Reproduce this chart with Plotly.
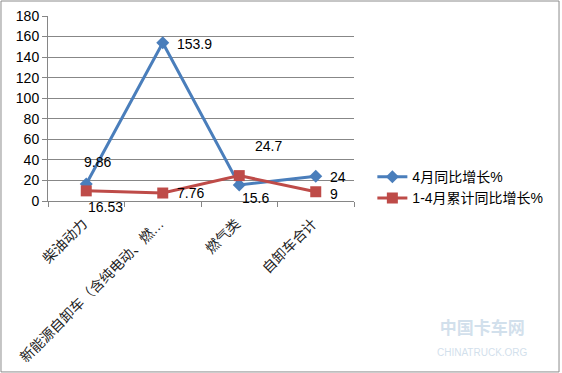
import plotly.graph_objects as go

categories = ["柴油动力", "新能源自卸车（含纯电动、燃…", "燃气类", "自卸车合计"]
growth_apr = [16.53, 153.9, 15.6, 24]
growth_ytd = [9.86, 7.76, 24.7, 9]
series_names = ["4月同比增长%", "1-4月累计同比增长%"]

# label offsets in pixels (dx, dy) per point
apr_offsets = [(19, -23), (32, -1), (16, -13), (22, -1)]
ytd_offsets = [(11, 29), (28, 0), (29, 30), (18, -2)]

FONT = "Liberation Sans, Noto Sans CJK SC, sans-serif"
BLUE = "#4A7EBB"
RED = "#BE4B48"

fig = go.Figure()
fig.add_trace(go.Scatter(x=categories, y=growth_apr, name=series_names[0], mode="lines+markers",
                         line=dict(color=BLUE, width=3), marker=dict(symbol="diamond", size=10, color=BLUE)))
fig.add_trace(go.Scatter(x=categories, y=growth_ytd, name=series_names[1], mode="lines+markers",
                         line=dict(color=RED, width=3), marker=dict(symbol="square", size=11, color=RED)))

annotations = []
for vals, offs in ((growth_apr, apr_offsets), (growth_ytd, ytd_offsets)):
    for c, v, (dx, dy) in zip(categories, vals, offs):
        annotations.append(dict(x=c, y=v, xref="x", yref="y", text=f"{v:g}", showarrow=False,
                                xshift=dx, yshift=dy, font=dict(family=FONT, size=14, color="#000")))

# faint watermark
annotations.append(dict(x=1.575, y=-0.62, xref="paper", yref="paper", xanchor="right", yanchor="top",
                        text="<b>中国卡车网</b><br><span style='font-size:10px'>CHINATRUCK.ORG</span>",
                        showarrow=False, opacity=0.35,
                        font=dict(family=FONT, size=17, color="#7fa7c9")))

fig.update_layout(
    width=562, height=373,
    margin=dict(l=48, r=208, t=16, b=172, autoexpand=False),
    paper_bgcolor="white", plot_bgcolor="white",
    font=dict(family=FONT, size=13, color="#000"),
    showlegend=True,
    legend=dict(x=1.06, y=0.215, xanchor="left", yanchor="top", xref="paper", yref="paper",
                font=dict(family=FONT, size=14), tracegroupgap=6, itemwidth=30),
    annotations=annotations,
    shapes=[dict(type="rect", xref="paper", yref="paper", x0=-0.1536, x1=1.67, y0=-0.924, y1=1.081,
                 line=dict(color="#8c8c8c", width=1))],
)
fig.update_xaxes(type="category", showgrid=False, showline=True, linecolor="#868686", linewidth=1,
                 ticks="outside", tickson="boundaries", ticklen=5, tickcolor="#868686", automargin=False,
                 tickangle=-45, tickfont=dict(family=FONT, size=14, color="#222"), range=[-0.5, 3.5],
                 ticklabelstandoff=8, ticklabelshift=-3)
fig.update_yaxes(range=[0, 180], dtick=20, showgrid=True, gridcolor="#878787", gridwidth=1, automargin=False,
                 showline=True, linecolor="#868686", ticks="outside", ticklen=5, tickcolor="#868686",
                 tickfont=dict(family=FONT, size=14), zeroline=False)

fig.write_html("out.html", config={"displayModeBar": False},
               post_script="document.body.style.margin='0';document.body.style.overflow='hidden';")
